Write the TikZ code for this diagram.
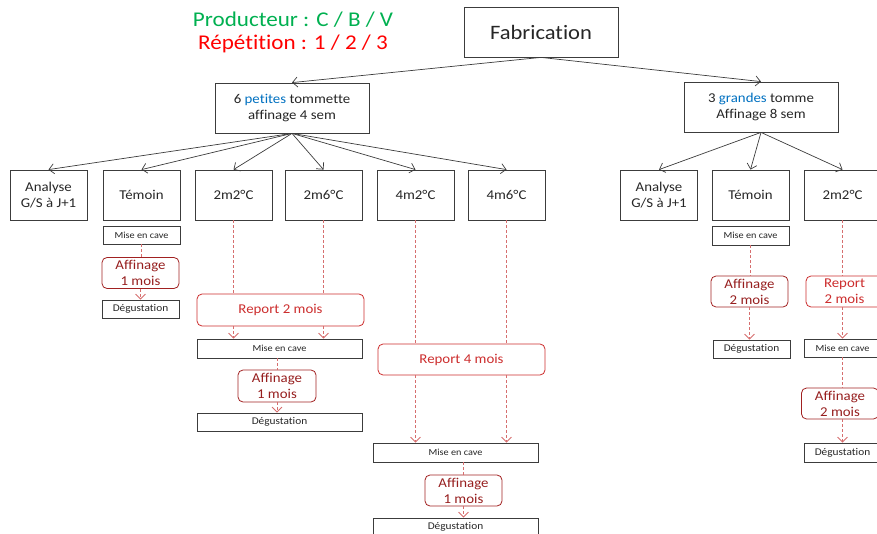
\documentclass[tikz,border=0pt]{standalone}
\usepackage{fontspec}
\setmainfont{Carlito}[FakeStretch=1.1,Ligatures={NoCommon,NoContextual}]
\usetikzlibrary{arrows.meta}

\definecolor{boxgray}{RGB}{60,60,60}
\definecolor{prodgreen}{RGB}{0,176,80}
\definecolor{reptext}{RGB}{255,0,0}
\definecolor{sizeblue}{RGB}{0,112,192}
\definecolor{reportred}{RGB}{204,45,45}
\definecolor{affired}{RGB}{150,30,30}
\definecolor{dashred}{RGB}{214,110,110}

\tikzset{
  box/.style={draw=boxgray,line width=0.8pt,inner sep=0pt,align=center,text=black!85,
    minimum width=77pt,minimum height=50pt,font=\fontsize{13.5}{16.5}\selectfont},
  smallbox/.style={draw=boxgray,line width=0.8pt,inner sep=0pt,align=center,text=black!85,
    minimum width=77pt,minimum height=18pt},
  report/.style={draw=reportred,line width=0.8pt,rounded corners=5pt,inner sep=0pt,
    align=center,text=reportred,minimum height=31pt,font=\fontsize{13.5}{16}\selectfont},
  affinage/.style={report,draw=affired!80!reportred,text=affired},
  conn/.style={draw=boxgray,line width=0.7pt,-{Straight Barb[length=5pt,width=10pt]}},
  dashline/.style={draw=dashred,line width=0.8pt,dash pattern=on 3pt off 2pt},
  dasharrow/.style={dashline,-{Straight Barb[length=5pt,width=10pt]}},
}

\newcommand{\cave}{\fontsize{9.3}{11}\selectfont Mise en cave}
\newcommand{\degu}{\fontsize{10.3}{12}\selectfont Dégustation}

\begin{document}
\begin{tikzpicture}[x=1pt,y=-1pt]
  \useasboundingbox (0,0) rectangle (877,534);
  \clip (0,0) rectangle (877,534);

  \node[align=center,font=\fontsize{21}{23}\selectfont] (title) at (293,32)
    {\textcolor{prodgreen}{Producteur : C / B / V}\\\textcolor{reptext}{Répétition : 1 / 2 / 3}};

  \node[box,minimum width=154pt,font=\fontsize{20.5}{22}\selectfont] (fab) at (541,32) {Fabrication};
  \node[box,minimum width=154pt] (petites) at (292,108)
    {6 \textcolor{sizeblue}{petites} tommette\\affinage 4 sem};
  \node[box,minimum width=154pt] (grandes) at (761,107)
    {3 \textcolor{sizeblue}{grandes} tomme\\Affinage 8 sem};

  \draw[conn] (fab.south) -- (petites.north);
  \draw[conn] (fab.south) -- (grandes.north);

  % petites tommettes
  \node[box] (anaL) at (48.5,195) {Analyse\\G/S à J+1};
  \node[box] (temL) at (141.5,195) {Témoin};
  \node[box] (a22) at (233.5,195) {2m2°C};
  \node[box] (a26) at (323.5,195) {2m6°C};
  \node[box] (a42) at (415.5,195) {4m2°C};
  \node[box] (a46) at (506.5,195) {4m6°C};
  \foreach \b in {anaL,temL,a22,a26,a42,a46}
    \draw[conn] (petites.south) -- (\b.north);

  \node[smallbox] (mecT) at (141.5,235) {\cave};
  \node[affinage,minimum width=77pt] (affT) at (140.5,273) {Affinage\\1 mois};
  \node[smallbox] (degT) at (140.5,309) {\degu};
  \draw[dashline] (mecT.south) -- (mecT.south |- affT.north);
  \draw[dasharrow] (affT.south) -- (affT.south |- degT.north);

  \node[report,minimum width=167pt,minimum height=32pt] (rep2) at (280.5,310) {Report 2 mois};
  \node[smallbox,minimum width=165pt,minimum height=19pt] (mec2) at (279.5,348.5) {\cave};
  \node[affinage,minimum width=78pt,minimum height=32pt] (aff2) at (277,386) {Affinage\\1 mois};
  \node[smallbox,minimum width=165pt] (deg2) at (279.5,422) {\degu};

  \node[report,minimum width=167pt] (rep4) at (461.5,359.5) {Report 4 mois};
  \node[smallbox,minimum width=165pt,minimum height=19pt] (mec4) at (455.5,452.5) {\cave};
  \node[affinage,minimum width=77pt] (aff4) at (463.5,490.5) {Affinage\\1 mois};
  \node[smallbox,minimum width=165pt] (deg4) at (455.5,527) {\degu};

  \foreach \c/\r/\m in {a22/rep2/mec2,a26/rep2/mec2,a42/rep4/mec4,a46/rep4/mec4} {
    \draw[dashline] (\c.south) -- (\c.south |- \r.north);
    \draw[dasharrow] (\c.south |- \r.south) -- (\c.south |- \m.north);
  }
  \foreach \m/\a/\d in {mec2/aff2/deg2,mec4/aff4/deg4} {
    \draw[dashline] (\a.north |- \m.south) -- (\a.north);
    \draw[dasharrow] (\a.south) -- (\a.south |- \d.north);
  }

  % grandes tommes
  \node[box] (anaR) at (659,195) {Analyse\\G/S à J+1};
  \node[box] (temR) at (750.5,195) {Témoin};
  \node[box] (b22) at (842.5,195) {2m2°C};
  \foreach \b in {anaR,temR,b22}
    \draw[conn] (grandes.south) -- (\b.north);

  \node[smallbox,minimum height=19pt] (mecR) at (750.5,235.5) {\cave};
  \node[affinage,minimum width=77pt] (affR) at (749.5,291.5) {Affinage\\2 mois};
  \node[smallbox] (degR) at (751.5,349) {\degu};
  \draw[dashline] (mecR.south) -- (mecR.south |- affR.north);
  \draw[dasharrow] (affR.south) -- (affR.south |- degR.north);

  \node[report,minimum width=77pt] (repR) at (844.5,291.5) {Report\\2 mois};
  \node[smallbox] (mecR2) at (842.5,348) {\cave};
  \node[affinage,minimum width=77pt] (affR2) at (840,403.5) {Affinage\\2 mois};
  \node[smallbox,minimum height=19pt] (degR2) at (842.5,452.5) {\degu};
  \draw[dashline] (b22.south) -- (b22.south |- repR.north);
  \draw[dasharrow] (b22.south |- repR.south) -- (b22.south |- mecR2.north);
  \draw[dashline] (b22.south |- mecR2.south) -- (b22.south |- affR2.north);
  \draw[dasharrow] (b22.south |- affR2.south) -- (b22.south |- degR2.north);
\end{tikzpicture}
\end{document}
